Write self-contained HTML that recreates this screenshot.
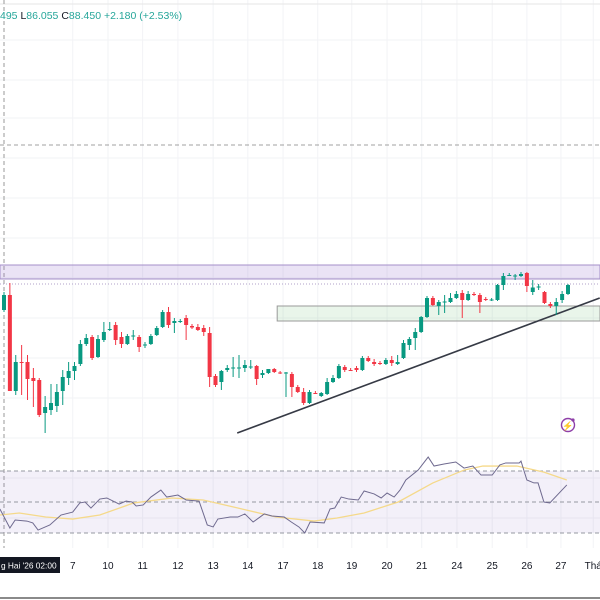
<!DOCTYPE html>
<html><head><meta charset="utf-8"><style>
html,body{margin:0;padding:0;background:#fff;}
body{width:600px;height:600px;overflow:hidden;font-family:"Liberation Sans",sans-serif;}
svg{display:block}
</style></head><body>
<svg id="chart" width="600" height="600" xmlns="http://www.w3.org/2000/svg">
<rect x="0" y="0" width="600" height="600" fill="#ffffff"/>
<g id="grid"></g>
<line x1="0" y1="4" x2="600" y2="4" stroke="#e6e6e6" stroke-width="1"/>
<line x1="4" y1="0" x2="4" y2="548" stroke="#9a9a9a" stroke-dasharray="4,3" stroke-width="1"/>
<text x="0" y="19" font-size="10.5" fill="#26a69a">495 <tspan fill="#131722">L</tspan>86.055 <tspan fill="#131722">C</tspan>88.450  +2.180 (+2.53%)</text>
<g id="overlays"></g>
<g id="candles"></g>
<g id="rsi"></g>
<g>
<circle cx="568" cy="425" r="6.5" fill="none" stroke="#8e3fa8" stroke-width="1.4"/>
<text x="568" y="429" font-size="9" text-anchor="middle" fill="#8e3fa8">⚡</text>
<circle cx="573" cy="420" r="1.6" fill="#8e3fa8"/>
</g>
<g id="timeaxis"></g>
<line x1="0" y1="598" x2="600" y2="598" stroke="#8a8a8a" stroke-width="2"/>
</svg>
<script>
// ---- data ----
const opens  = [86.15,87.65,78.05,80.95,80.95,79.35,79.15,75.85,76.15,76.55,78.05,79.35,80.05,80.75,82.75,83.45,81.45,83.15,84.2,84.65,83.45,82.75,83.55,83.45,82.65,82.75,83.65,84.45,85.95,84.85,85.0,85.35,84.55,84.45,84.35,83.85,79.55,78.95,80.15,80.35,80.35,80.35,80.45,80.55,79.65,79.85,80.25,79.9,79.85,79.75,78.45,77.95,76.85,77.85,77.55,77.75,78.95,79.35,80.45,80.15,80.35,80.15,81.35,80.95,80.85,80.75,81.15,80.75,81.35,82.65,83.35,83.95,85.45,87.35,86.55,86.95,86.95,87.35,87.85,87.15,87.75,87.65,87.25,87.15,87.15,88.65,89.6,89.55,89.55,89.85,87.95,88.45,87.95,86.75,86.55,87.15,87.75];
const highs  = [87.95,88.85,81.65,82.65,81.65,80.35,79.35,77.55,78.75,78.75,80.15,80.95,80.95,83.15,83.75,83.65,83.65,84.95,84.95,84.95,83.95,83.75,84.15,83.65,82.95,83.75,84.55,86.15,86.45,85.35,85.25,85.65,84.75,84.75,84.65,84.45,79.75,80.15,80.65,81.45,81.65,81.15,81.15,80.65,80.15,80.15,80.35,80.05,79.95,79.95,78.65,78.35,78.15,78.05,77.95,79.35,79.65,80.75,80.65,80.35,80.55,81.55,81.55,81.25,81.05,81.35,81.55,81.65,83.15,83.45,84.35,85.55,87.55,87.55,87.15,87.65,87.85,88.05,88.15,88.05,87.95,87.85,87.45,87.35,88.75,89.85,89.85,89.75,89.95,89.95,89.15,88.75,88.05,86.95,87.35,88.05,88.75];
const lows   = [85.95,78.05,77.65,77.65,77.15,76.45,75.45,73.85,75.65,75.95,76.65,78.65,79.15,80.55,82.55,81.15,81.35,82.95,84.05,82.65,82.35,82.65,83.15,81.95,82.35,82.65,83.55,84.35,84.35,83.85,84.85,83.15,84.25,84.05,83.55,78.45,78.45,78.15,79.95,79.45,79.35,79.95,80.25,78.65,79.35,79.75,79.85,79.75,77.45,77.45,77.85,76.65,76.75,77.75,77.45,77.65,78.85,79.25,79.95,80.05,79.95,80.05,80.95,80.55,80.65,80.65,80.55,80.65,81.25,82.15,82.15,83.85,85.35,86.55,85.65,85.85,86.85,87.25,85.35,87.05,87.55,85.85,87.05,87.05,87.05,88.15,89.55,89.15,89.45,87.95,87.65,88.15,86.75,86.35,85.65,86.85,87.65];
const closes = [87.65,78.05,80.95,80.9,79.25,79.05,75.65,76.45,76.85,77.95,79.45,80.05,80.55,82.75,83.35,81.35,83.25,83.95,84.25,83.15,82.75,83.55,83.6,82.45,82.7,83.55,84.35,85.95,84.65,85.05,85.05,84.65,84.4,84.15,83.95,79.45,78.65,80.05,80.35,80.4,80.4,80.65,80.5,79.25,79.85,80.25,79.95,79.85,79.9,78.45,77.95,76.85,77.95,77.8,77.85,78.95,79.35,80.55,80.15,80.1,80.15,81.35,81.05,80.75,80.8,81.15,80.85,80.95,82.85,83.25,83.95,85.45,87.35,86.65,86.95,87.0,87.35,87.75,87.15,87.75,87.7,86.95,87.2,87.2,88.65,89.55,89.65,89.6,89.75,88.55,88.4,88.5,86.85,86.55,86.95,87.75,88.65];
const rsiT = [-0.7,1.0,1.9,3.9,4.9,5.8,7.8,9.7,11.7,12.9,13.8,14.8,16.3,17.5,19.6,20.8,21.8,22.5,23.7,25.0,26.7,27.7,29.6,31.0,33.2,34.6,35.6,36.4,38.5,39.8,41.0,42.4,44.3,45.6,47.7,48.9,50.2,51.2,52.1,54.5,55.5,56.3,57.4,58.7,60.3,61.3,63.0,64.2,65.2,66.4,67.4,68.4,70.5,72.2,73.2,74.9,76.9,78.3,79.8,81.2,83.1,84.4,85.4,87.7,88.0,89.0,90.2,90.9,91.9,92.9,95.8];
const rsiV = [45.5,33.2,38.4,37.7,36.5,31.9,35.2,41.6,43.5,49.4,50,46.1,51.9,52.6,48.7,50.6,50,47.4,48.1,53.2,57.7,53.2,54.5,51.3,50.6,35.2,33.9,39,40.3,40.3,42.3,37.1,42.3,41,40.3,37.1,33.9,30,37.1,36.5,45.5,46.1,53.2,51.9,51.3,57.1,55.2,52.6,55.8,53.2,57.7,64.2,70.6,79,73.2,74.5,75.8,71.9,73.2,67.4,67.4,73.9,75.2,75.2,76.4,64.2,62.3,62.3,50,49.4,61];
const maT = [-0.7,2.6,7.1,11.7,16.3,22.1,28.6,33.9,39.8,46.3,52.8,56.7,61.3,67.1,73.0,78.3,81.5,87.3,91.9,95.8];
const maV = [41.6,42.9,40.3,39,41.6,49.4,52.6,51.3,46.1,40.3,37.7,39.7,42.9,50,62.3,70.6,73.2,73.2,69.3,64.2];
const rsiLevels = [70,50,30];
const timeLabels = ["7","10","11","12","13","14","17","18","19","20","21","24","25","26","27","Thá"];
const timeLabelT = [11.7,17.7,23.6,29.6,35.6,41.5,47.5,53.4,59.2,65.2,71.1,77.1,83.1,89.0,94.8,100.3];
const resistanceZone = [90.65,89.25];
const supportZone = [86.55,85.05];
const supportStartT = 46.5;
const trendT = [39.7,101.4];
const trendP = [73.85,87.35];
const dottedLevel = 88.75;
const dashedLevel = 102.65;

// ---- scales ----
const xS = t => 4 + t*5.875;
const yS = p => 1171.5 - 10*p;
const yR = v => 533 - (v-30)*62/40;
const NS = "http://www.w3.org/2000/svg";
function mk(tag, parent, attrs){const e=document.createElementNS(NS,tag);for(const k in attrs)e.setAttribute(k,attrs[k]);parent.appendChild(e);return e;}

// grid
const grid=document.getElementById('grid');
timeLabelT.forEach(t=>{const l=mk('line',grid,{x1:xS(t),x2:xS(t),y1:0,y2:548,stroke:'#f2f3f6','stroke-width':1});

});
[40,80,118,158,198,238,278,318,358,398,438,478,518].forEach(y=>{const l=mk('line',grid,{x1:0,x2:600,y1:y,y2:y,stroke:'#f2f3f6','stroke-width':1});

});

// overlays
const ov=document.getElementById('overlays');
let e;
e=mk('line',ov,{x1:0,x2:600,y1:yS(dashedLevel),y2:yS(dashedLevel),stroke:'#a0a0a0','stroke-dasharray':'4,3'});


e=mk('rect',ov,{x:0,y:yS(resistanceZone[0]),width:600,height:yS(resistanceZone[1])-yS(resistanceZone[0]),fill:'rgba(149,117,205,0.2)',stroke:'#a48fc9','stroke-width':1});


e=mk('line',ov,{x1:0,x2:600,y1:yS(dottedLevel),y2:yS(dottedLevel),stroke:'#b0a0c8','stroke-dasharray':'1,2'});


e=mk('rect',ov,{x:xS(supportStartT),y:yS(supportZone[0]),width:600-xS(supportStartT),height:yS(supportZone[1])-yS(supportZone[0]),fill:'rgba(76,175,80,0.12)',stroke:'#9a9a9a','stroke-width':1});


e=mk('line',ov,{x1:xS(trendT[0]),y1:yS(trendP[0]),x2:xS(trendT[1]),y2:yS(trendP[1]),stroke:'#363a45','stroke-width':1.6});



// candles
const cg=document.getElementById('candles');
opens.forEach((o,i)=>{
  const c=closes[i],up=c>=o,col=up?'#089981':'#f23645',x=xS(i);
  const g=mk('g',cg,{});
  
  
  mk('line',g,{x1:x,x2:x,y1:yS(highs[i]),y2:yS(lows[i]),stroke:col,'stroke-width':1});
  const top=Math.min(yS(o),yS(c)),h=Math.max(1,Math.abs(yS(o)-yS(c)));
  mk('rect',g,{x:x-2,y:top,width:4,height:h,fill:col});
});

// RSI
const rg=document.getElementById('rsi');
e=mk('rect',rg,{x:0,y:yR(70),width:600,height:yR(30)-yR(70),fill:'rgba(126,87,194,0.09)'});


rsiLevels.forEach(v=>{const l=mk('line',rg,{x1:0,x2:600,y1:yR(v),y2:yR(v),stroke:'#9598a1','stroke-dasharray':'4,3','stroke-width':1});

});
e=mk('polyline',rg,{points:maT.map((t,i)=>xS(t)+','+yR(maV[i])).join(' '),fill:'none',stroke:'#f5d98a','stroke-width':1.3});


e=mk('polyline',rg,{points:rsiT.map((t,i)=>xS(t)+','+yR(rsiV[i])).join(' '),fill:'none',stroke:'#6f6a8f','stroke-width':1});



// time axis
const ta=document.getElementById('timeaxis');
timeLabels.forEach((s,i)=>{const t=mk('text',ta,{x:xS(timeLabelT[i]),y:569,'font-size':10,'text-anchor':'middle',fill:'#131722'});t.textContent=s;

});
e=mk('rect',ta,{x:0,y:557,width:60,height:16,fill:'#131722'});


e=mk('text',ta,{x:1,y:568.5,'font-size':8.3,fill:'#ffffff'});e.textContent="g Hai '26  02:00";


</script>
</body></html>
